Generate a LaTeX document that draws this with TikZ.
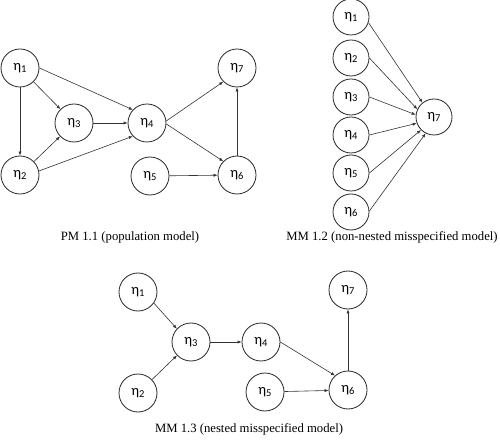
\documentclass[tikz,border=0pt]{standalone}
\usepackage{fontspec}
\setmainfont{Liberation Serif}
\newfontfamily\etafont{Carlito}
\usetikzlibrary{arrows.meta}
\newcommand\et[1]{{\etafont\fontsize{14.5}{14.5}\selectfont η\raisebox{-2.6pt}{\fontsize{10.5}{10.5}\selectfont #1}}}
\tikzset{
  var/.style={circle,draw=black!85,line width=0.8pt,minimum size=38pt,inner sep=0pt},
  varsm/.style={var,minimum size=36pt},
  arr/.style={draw=black!80,line width=0.6pt,-{Latex[length=4pt,width=3.2pt]}},
  captext/.style={font=\fontsize{12.7}{14}\selectfont,inner sep=0pt}
}
\begin{document}
\begin{tikzpicture}[x=1pt,y=-1pt]
\useasboundingbox (0,0) rectangle (500,443);
% PM 1.1
\node[var] (a1) at (20,68) {\et1};
\node[var] (a2) at (20,175) {\et2};
\node[var] (a3) at (74,123) {\et3};
\node[var] (a4) at (147,123) {\et4};
\node[var] (a5) at (150,176) {\et5};
\node[var] (a6) at (237,175) {\et6};
\node[var] (a7) at (237,68) {\et7};
\draw[arr] (a1) -- (a2);
\draw[arr] (a1) -- (a3);
\draw[arr] (a1.0) -- (a4.137);
\draw[arr] (a2) -- (a3);
\draw[arr] (a2.12) -- (a4.223);
\draw[arr] (a3) -- (a4);
\draw[arr] (a4.6) -- (a7.225);
\draw[arr] (a4.-3) -- (a6.135);
\draw[arr] (a5) -- (a6);
\draw[arr] (a6) -- (a7);
\node[captext] (c1) at (130,237) {PM 1.1 (population model)};
% MM 1.2
\node[varsm] (b1) at (351,17) {\et1};
\node[varsm] (b2) at (351,58) {\et2};
\node[varsm] (b3) at (351,97) {\et3};
\node[varsm] (b4) at (351,135) {\et4};
\node[varsm] (b5) at (351,173) {\et5};
\node[varsm] (b6) at (351,212) {\et6};
\node[varsm] (b7) at (434,117) {\et7};
\draw[arr] (b1.-18) -- (b7.129);
\draw[arr] (b2.0) -- (b7.155);
\draw[arr] (b3.0) -- (b7.173);
\draw[arr] (b4.0) -- (b7.200);
\draw[arr] (b5.0) -- (b7.225);
\draw[arr] (b6.3) -- (b7.243);
\node[captext] (c2) at (392,237) {MM 1.2 (non-nested misspecified model)};
% MM 1.3
\node[var] (m1) at (138,292) {\et1};
\node[var] (m2) at (138,393) {\et2};
\node[var] (m3) at (191,342) {\et3};
\node[var] (m4) at (261,342) {\et4};
\node[var] (m5) at (265,392) {\et5};
\node[var] (m6) at (348,390) {\et6};
\node[var] (m7) at (348,290) {\et7};
\draw[arr] (m1.-35) -- (m3.137);
\draw[arr] (m2) -- (m3);
\draw[arr] (m3) -- (m4);
\draw[arr] (m4.0) -- (m6.132);
\draw[arr] (m5) -- (m6);
\draw[arr] (m6) -- (m7);
\node[captext] (c3) at (249,429) {MM 1.3 (nested misspecified model)};
\end{tikzpicture}
\end{document}
